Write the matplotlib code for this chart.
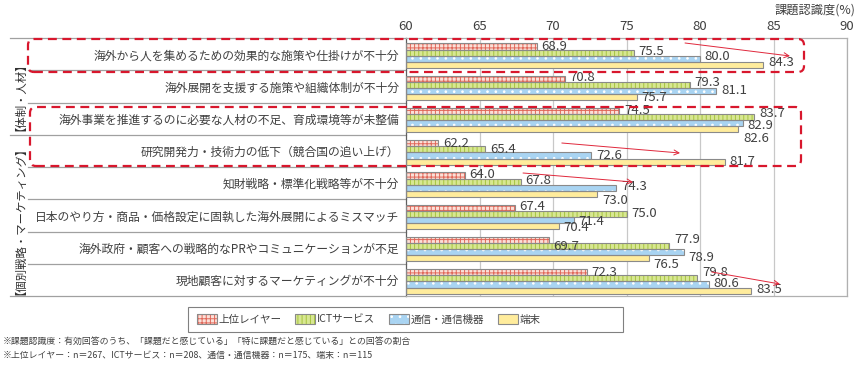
import matplotlib
matplotlib.use("Agg")
import matplotlib.pyplot as plt
from matplotlib.patches import Patch, FancyBboxPatch, Rectangle
from matplotlib.transforms import blended_transform_factory, IdentityTransform
from matplotlib.legend_handler import HandlerTuple

plt.rcParams['font.family'] = ['Noto Sans CJK JP', 'DejaVu Sans']
plt.rcParams['hatch.linewidth'] = 0.7

# ---------------- data ----------------
categories = [
    "海外から人を集めるための効果的な施策や仕掛けが不十分",
    "海外展開を支援する施策や組織体制が不十分",
    "海外事業を推進するのに必要な人材の不足、育成環境等が未整備",
    "研究開発力・技術力の低下（競合国の追い上げ）",
    "知財戦略・標準化戦略等が不十分",
    "日本のやり方・商品・価格設定に固執した海外展開によるミスマッチ",
    "海外政府・顧客への戦略的なPRやコミュニケーションが不足",
    "現地顧客に対するマーケティングが不十分",
]
series_names = ["上位レイヤー", "ICTサービス", "通信・通信機器", "端末"]
upper_layer = [68.9, 70.8, 74.5, 62.2, 64.0, 67.4, 69.7, 72.3]
ict_service = [75.5, 79.3, 83.7, 65.4, 67.8, 75.0, 77.9, 79.8]
telecom_equipment = [80.0, 81.1, 82.9, 72.6, 74.3, 71.4, 78.9, 80.6]
terminal = [84.3, 75.7, 82.6, 81.7, 73.0, 70.4, 76.5, 83.5]
x_ticks = [60, 65, 70, 75, 80, 85, 90]
group_labels = ["【体制・人材】", "【個別戦略・マーケティング】"]
axis_title = "課題認識度(%)"
notes = [
    "※課題認識度：有効回答のうち、「課題だと感じている」「特に課題だと感じている」との回答の割合",
    "※上位レイヤー：n＝267、ICTサービス：n＝208、通信・通信機器：n＝175、端末：n＝115",
]
# ---------------------------------------

# vertical nudges of the value labels (pixels, + = down), per row, per series
label_nudge = [
    [0, -1, -2, -2],
    [-1, -2, -1, 0],
    [-1, -4, 2, 9],
    [0, 0, 0, 0],
    [-1, -1, -1, 6.5],
    [-1, 0, 1, 1],
    [6, -7, 5, 6],
    [0, -6, -1, -1],
]

series = [upper_layer, ict_service, telecom_equipment, terminal]
styles = [
    dict(face="#FBE0D8", hatch="++++", hcol="#E0685A"),
    dict(face="#D8E792", hatch="||||", hcol="#A6C43E"),
    dict(face="#A9D4F2", hatch="..", hcol="#FFFFFF"),
    dict(face="#FFEC9C", hatch="", hcol="#FFEC9C"),
]
outline = "#8A8A8A"
txt = "#404040"
red = "#D8172D"

W, H = 859, 366
fig = plt.figure(figsize=(W / 100, H / 100), dpi=100)
ax = fig.add_axes([406 / W, 1 - 296 / H, (847 - 406) / W, (296 - 38) / H])

n = len(categories)
ypos = list(range(n))
bh = 0.19
shift = 0.05
for i, (vals, st) in enumerate(zip(series, styles)):
    ys = [y + (i - 1.5) * bh + shift for y in ypos]
    widths = [v - x_ticks[0] for v in vals]
    ax.barh(ys, widths, left=x_ticks[0], height=bh, color=st["face"],
            edgecolor=st["hcol"], hatch=st["hatch"], linewidth=0, zorder=2)
    ax.barh(ys, widths, left=x_ticks[0], height=bh, fill=False,
            edgecolor=outline, linewidth=0.8, zorder=3)
    for r, (y, v) in enumerate(zip(ys, vals)):
        dy = -label_nudge[r][i] * 0.72
        ax.annotate(f"{v:.1f}", xy=(v, y), xytext=(3.5, dy), textcoords="offset points",
                    ha="left", va="center", fontsize=9.5, color=txt, zorder=5)

ax.set_xlim(x_ticks[0], x_ticks[-1])
ax.set_ylim(n - 0.5, -0.5)
ax.xaxis.tick_top()
ax.set_xticks(x_ticks)
ax.set_xticklabels([str(t) for t in x_ticks], fontsize=9.5, color=txt)
ax.tick_params(axis="x", length=0, pad=3.5)
ax.set_yticks(ypos)
ax.set_yticklabels(categories, fontsize=8.5, color=txt)
ax.tick_params(axis="y", length=0, pad=5)
for t in x_ticks[1:]:
    ax.axvline(t, color="#C8C8C8", lw=0.9, zorder=1)
for s in ["top", "bottom", "right"]:
    ax.spines[s].set_color("#B0B0B0")
    ax.spines[s].set_linewidth(0.9)
ax.spines["left"].set_color("#606060")
ax.spines["left"].set_linewidth(0.9)

# left label area lines
bt = blended_transform_factory(fig.transFigure, ax.transData)
x_axis_left = 406 / W
for b in range(1, n):
    x0 = 10 / W if b == 3 else 28 / W
    ax.plot([x0, x_axis_left], [b - 0.5, b - 0.5], transform=bt, color="#A0A0A0",
            lw=0.9, clip_on=False, zorder=1)
for b in [-0.5, n - 0.5]:
    ax.plot([10 / W, x_axis_left], [b, b], transform=bt, color="#A0A0A0",
            lw=0.9, clip_on=False, zorder=1)

# group labels
ax.text(15 / W, 1.15, group_labels[0], transform=bt, rotation=90, ha="center",
        va="center", fontsize=8.2, color="#303030")
ax.text(15 / W, 5.0, group_labels[1], transform=bt, rotation=90, ha="center",
        va="center", fontsize=8.2, color="#303030")

fig.text(855 / W, 1 - 10 / H, axis_title, ha="right", va="center", fontsize=8.8, color=txt)

# dashed rounded highlight boxes (pixel coords)
for (x0, y0, x1, y1) in [(28, 39, 804, 72), (30, 107, 801, 166)]:
    box = FancyBboxPatch((x0 + 6, H - y1 + 6), (x1 - x0) - 12, (y1 - y0) - 12,
                         boxstyle="round,pad=6", transform=IdentityTransform(),
                         fill=False, edgecolor=red, lw=1.6, linestyle=(0, (4, 2.5)),
                         zorder=10)
    fig.add_artist(box)

# arrows (data coords)
arrows = [((78.98, -0.345), (86.12, 0.058)),
          ((70.6, 2.756), (78.64, 3.066)),
          ((67.96, 3.686), (75.44, 3.965)),
          ((80.8, 6.756), (85.44, 7.128))]
for s, e in arrows:
    ax.annotate("", xy=e, xytext=s, annotation_clip=False,
                arrowprops=dict(arrowstyle="->", color="#E0283C", lw=0.7,
                                shrinkA=0, shrinkB=0, mutation_scale=9), zorder=6)

# legend (items) + separate frame
handles = []
for st in styles:
    p1 = Patch(facecolor=st["face"], edgecolor=st["hcol"], hatch=st["hatch"], linewidth=0)
    p2 = Patch(fill=False, edgecolor=outline, linewidth=0.8)
    handles.append((p1, p2))
leg = fig.legend(handles, series_names, loc="center left",
                 bbox_to_anchor=(197 / W, 1 - 319.5 / H),
                 ncol=4, frameon=False, fontsize=7.6, handlelength=1.9,
                 handleheight=1.05, handletextpad=0.15, columnspacing=1.3, borderpad=0,
                 borderaxespad=0, handler_map={tuple: HandlerTuple(ndivide=1)})
for t in leg.get_texts():
    t.set_color(txt)
fig.add_artist(Rectangle((188, H - 332), 623 - 188, 332 - 307, transform=IdentityTransform(),
                         fill=False, edgecolor="#808080", lw=0.8))

fig.text(3 / W, 1 - 341 / H, notes[0], ha="left", va="center", fontsize=6.4, color=txt)
fig.text(3 / W, 1 - 355 / H, notes[1], ha="left", va="center", fontsize=6.4, color=txt)

fig.savefig("out.png", dpi=100)
